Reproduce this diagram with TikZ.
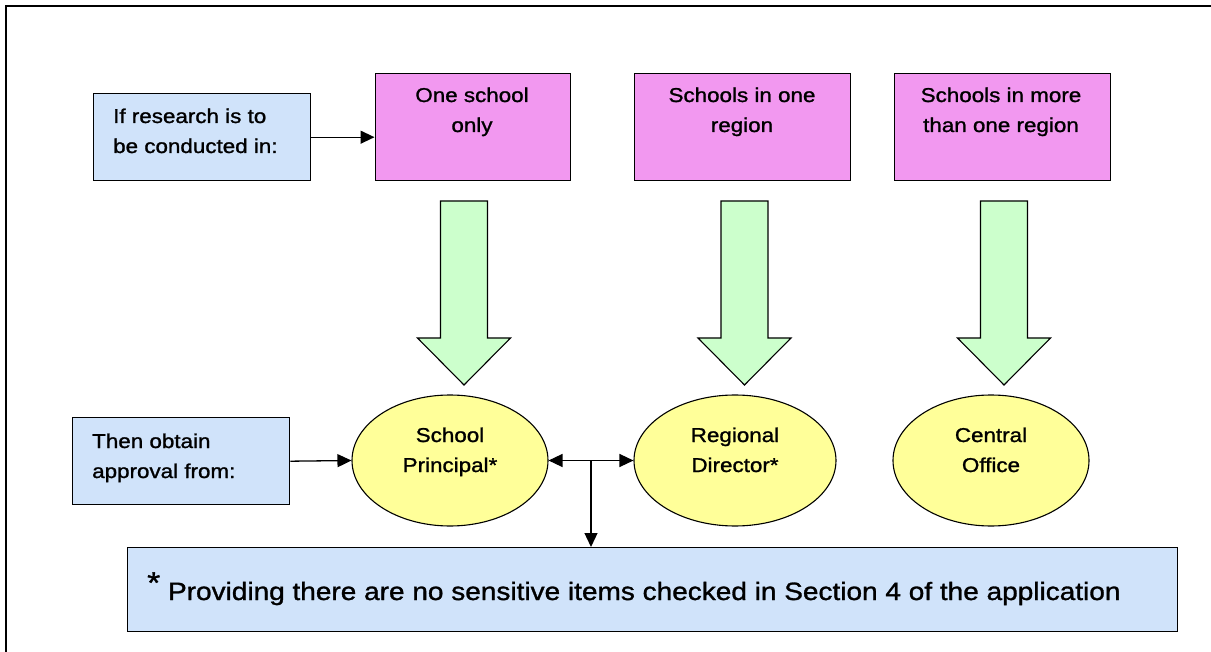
\documentclass[tikz,border=0pt]{standalone}
\usepackage{fontspec}
\setmainfont[FakeStretch=1.12,FakeBold=1.2]{Liberation Sans}
\usetikzlibrary{arrows.meta,shapes.geometric}
\definecolor{boxblue}{RGB}{208,227,250}
\definecolor{boxpink}{RGB}{242,152,240}
\definecolor{arrgreen}{RGB}{204,255,204}
\definecolor{ellyellow}{RGB}{255,255,153}
\tikzset{
  bluebox/.style={draw=black, line width=1.4pt, fill=boxblue, rectangle, inner sep=0pt, anchor=north west},
  pinkbox/.style={draw=black, line width=1.4pt, fill=boxpink, rectangle, inner sep=0pt, anchor=north west},
  approval/.style={draw=black, line width=1.1pt, fill=ellyellow, ellipse, inner sep=0pt, minimum height=131pt},
  txt/.style={font=\fontsize{20}{30}\selectfont, inner sep=0pt},
  blockarrow/.style={draw=black, line width=1.1pt, fill=arrgreen, line join=miter},
  conn/.style={line width=1.3pt, -{Triangle[length=14pt,width=13pt]}},
  dconn/.style={line width=1.3pt, {Triangle[length=14pt,width=13pt]}-{Triangle[length=14pt,width=13pt]}},
}
\begin{document}
\begin{tikzpicture}[x=1pt,y=-1pt]
\useasboundingbox (0,0) rectangle (1211,652);
\clip (0,0) rectangle (1211,652);
\fill[white] (0,0) rectangle (1211,652);
% outer frame
\draw[line width=1.8pt] (6,680) -- (6,6) -- (1240,6);

% top row
\node[bluebox, minimum width=217pt, minimum height=87pt] (q) at (93,93) {};
\node[txt, anchor=west, align=left] (qt) at (113,132) {\strut If research is to\\be conducted in:\strut};

\node[pinkbox, minimum width=195pt, minimum height=107pt] (p1) at (374.5,73) {};
\node[pinkbox, minimum width=216pt, minimum height=107pt] (p2) at (634,73) {};
\node[pinkbox, minimum width=216pt, minimum height=107pt] (p3) at (893.5,73) {};
\node[txt, align=center] (p1t) at (472,111) {\strut One school\\only\strut};
\node[txt, align=center] (p2t) at (742,111) {\strut Schools in one\\region\strut};
\node[txt, align=center] (p3t) at (1001,111) {\strut Schools in more\\than one region\strut};

\draw[conn] (q.east) -- (q.east -| p1.west);

% block arrows
\foreach \cx/\nm in {464/a1,744.5/a2,1004/a3}{
  \draw[blockarrow] (\cx-23.5,201) -- (\cx+23.5,201) -- (\cx+23.5,338) -- (\cx+46.5,338)
     -- (\cx,385) -- (\cx-46.5,338) -- (\cx-23.5,338) -- cycle;
}

% second row
\node[bluebox, minimum width=217pt, minimum height=87pt] (t) at (72,417) {};
\node[txt, anchor=west, align=left] (tt) at (92,457) {\strut Then obtain\\approval from:\strut};

\node[approval, minimum width=196pt] (e1) at (450,460.5) {};
\node[approval, minimum width=202pt] (e2) at (735,460.5) {};
\node[approval, minimum width=196pt] (e3) at (991,460.5) {};
\node[txt, align=center] (e1t) at (450,451) {\strut School\\Principal*\strut};
\node[txt, align=center] (e2t) at (735,451) {\strut Regional\\Director*\strut};
\node[txt, align=center] (e3t) at (991,451) {\strut Central\\Office\strut};

\draw[conn] (t.east) -- (e1.west);
\draw[dconn] (e1.east) -- (e2.west);
\coordinate (j) at (591,460.5);

% bottom note
\node[bluebox, minimum width=1050pt, minimum height=84pt] (n) at (127,547) {};
\node[txt, anchor=base west] (nt) at (147,600) {\fontsize{25}{30}\selectfont\raisebox{7pt}{\fontsize{30}{30}\selectfont *} Providing there are no sensitive items checked in Section 4 of the application};

\draw[conn] (j) -- (j |- n.north);
\end{tikzpicture}
\end{document}
